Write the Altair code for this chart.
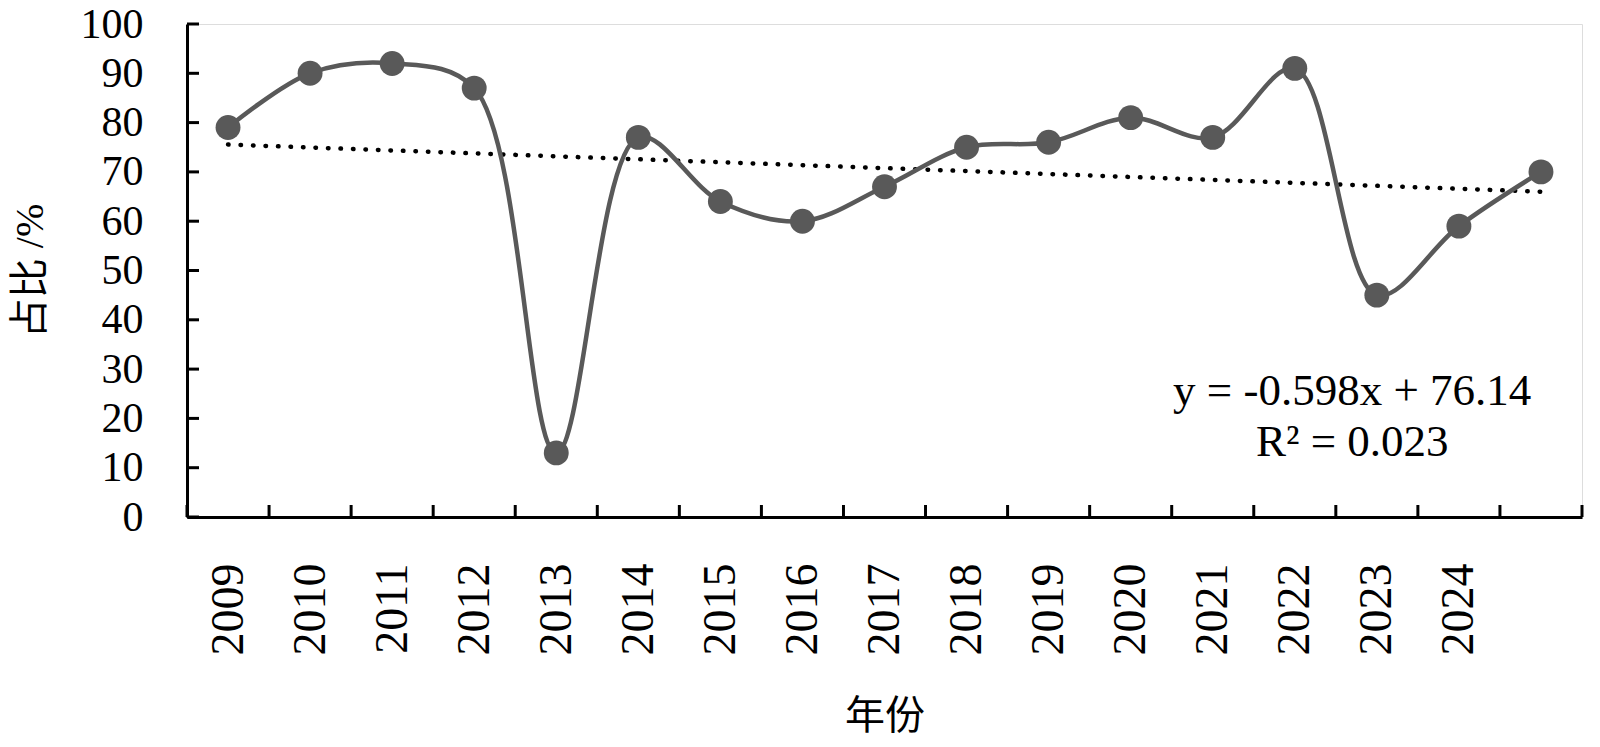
import altair as alt
import pandas as pd

# ---- data ----
years = ["2009", "2010", "2011", "2012", "2013", "2014", "2015", "2016",
         "2017", "2018", "2019", "2020", "2021", "2022", "2023", "2024", ""]
idx = list(range(1, 18))
values = [79, 90, 92, 87, 13, 77, 64, 60, 67, 75, 76, 81, 77, 91, 45, 59, 70]
y_tick_values = [0, 10, 20, 30, 40, 50, 60, 70, 80, 90, 100]
x_tick_bounds = [i + 0.5 for i in range(0, 18)]
equation_lines = ["y = -0.598x + 76.14", "R² = 0.023"]
equation_x = [14.7, 14.7]
equation_y = [25.6, 15.3]

df = pd.DataFrame({"idx": idx, "value": values, "year": years})
yt = pd.DataFrame({"v": y_tick_values})
xt = pd.DataFrame({"b": x_tick_bounds})
eq = pd.DataFrame({"t": equation_lines, "x": equation_x, "y": equation_y})

W, H = 1395, 493
FONT = "Liberation Serif, Times New Roman, Noto Sans CJK SC"
GRAY = "#595959"

label_arr = "[" + ",".join("'" + y + "'" for y in years) + "]"

x_scale = alt.Scale(domain=[0.5, 17.5], nice=False, zero=False)
y_scale = alt.Scale(domain=[0, 100], nice=False, zero=True)

x_axis = alt.Axis(values=idx, labelExpr=label_arr + "[datum.value-1]",
                  labelAngle=270, ticks=False, grid=False, domain=True,
                  domainColor="black", domainWidth=3, labelFont=FONT,
                  labelFontSize=46, labelColor="black", labelPadding=46,
                  title="年份", titleFont=FONT, titleFontSize=40,
                  titleFontWeight="normal", titleColor="black", titlePadding=41)
y_axis = alt.Axis(values=y_tick_values, ticks=False, grid=False, domain=True,
                  domainColor="black", domainWidth=3, labelFont=FONT,
                  labelFontSize=42, labelColor="black", labelPadding=44,
                  title="占比 /%", titleFont=FONT, titleFontSize=40,
                  titleFontWeight="normal", titleColor="black", titlePadding=30)

base = alt.Chart(df)

line = base.mark_line(interpolate="catmull-rom", color=GRAY,
                      strokeWidth=4.5).encode(
    x=alt.X("idx:Q", scale=x_scale, axis=x_axis),
    y=alt.Y("value:Q", scale=y_scale, axis=y_axis),
)

trend = base.transform_regression("idx", "value", extent=[1, 17]).mark_line(
    color="black", strokeWidth=4.5, strokeDash=[0.5, 12], strokeCap="round"
).encode(x=alt.X("idx:Q", scale=x_scale), y=alt.Y("value:Q", scale=y_scale))

points = base.mark_circle(size=620, color=GRAY, opacity=1).encode(
    x=alt.X("idx:Q", scale=x_scale), y=alt.Y("value:Q", scale=y_scale))

yticks = alt.Chart(yt).mark_rule(color="black", strokeWidth=3).encode(
    y=alt.Y("v:Q", scale=y_scale), x=alt.value(0), x2=alt.value(12))

xticks = alt.Chart(xt).mark_rule(color="black", strokeWidth=3).encode(
    x=alt.X("b:Q", scale=x_scale), y=alt.value(H), y2=alt.value(H - 12))

text = alt.Chart(eq).mark_text(font=FONT, fontSize=45, color="black",
                               align="center", baseline="middle").encode(
    x=alt.X("x:Q", scale=x_scale), y=alt.Y("y:Q", scale=y_scale), text="t:N")

chart = alt.layer(trend, line, points, yticks, xticks, text).properties(
    width=W, height=H,
    autosize=alt.AutoSizeParams(type="none"),
    padding={"left": 179, "top": 16, "right": 10, "bottom": 222},
).configure_view(stroke=None).configure(background="white")

chart.save("out.html", embed_options={"renderer": "svg", "actions": False})
